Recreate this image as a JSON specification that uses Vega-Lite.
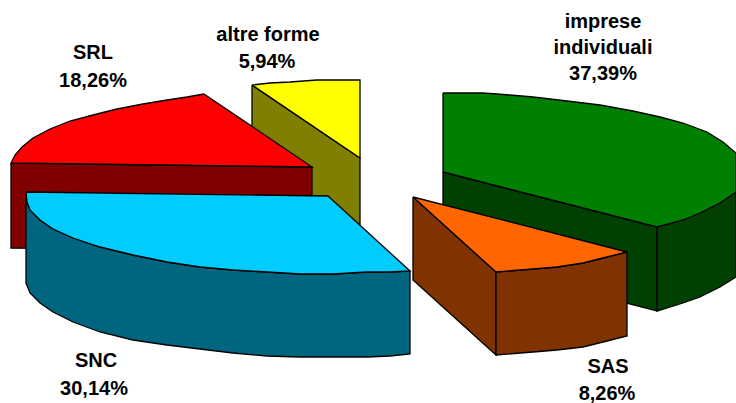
{"$schema":"https://vega.github.io/schema/vega-lite/v6.json","width":736,"height":403,"padding":0,"autosize":{"type":"none"},"view":{"stroke":null},"background":"white",
"datasets":{"faces":[
{"f":"a1","o":1,"x":252,"y":85},{"f":"a1","o":2,"x":360,"y":158},{"f":"a1","o":3,"x":360,"y":241},{"f":"a1","o":4,"x":252,"y":168},{"f":"a1","o":5,"x":252,"y":85},
{"f":"a2","o":1,"x":252,"y":85},{"f":"a2","o":2,"x":270,"y":83},{"f":"a2","o":3,"x":290,"y":82},{"f":"a2","o":4,"x":317,"y":80},{"f":"a2","o":5,"x":360,"y":80},{"f":"a2","o":6,"x":360,"y":158},{"f":"a2","o":7,"x":252,"y":85},
{"f":"b1","o":1,"x":11,"y":163},{"f":"b1","o":2,"x":312,"y":167},{"f":"b1","o":3,"x":312,"y":250},{"f":"b1","o":4,"x":11,"y":248},{"f":"b1","o":5,"x":11,"y":163},
{"f":"b2","o":1,"x":204,"y":94},{"f":"b2","o":2,"x":187,"y":97},{"f":"b2","o":3,"x":167,"y":100},{"f":"b2","o":4,"x":143,"y":104},{"f":"b2","o":5,"x":117,"y":109},{"f":"b2","o":6,"x":93,"y":115},{"f":"b2","o":7,"x":70,"y":121},{"f":"b2","o":8,"x":50,"y":129},{"f":"b2","o":9,"x":33,"y":138},{"f":"b2","o":10,"x":22,"y":147},{"f":"b2","o":11,"x":15,"y":155},{"f":"b2","o":12,"x":11,"y":163},{"f":"b2","o":13,"x":312,"y":167},{"f":"b2","o":14,"x":204,"y":94},
{"f":"c1","o":1,"x":26,"y":192},{"f":"c1","o":2,"x":27,"y":202},{"f":"c1","o":3,"x":30,"y":210},{"f":"c1","o":4,"x":40,"y":220},{"f":"c1","o":5,"x":53,"y":229},{"f":"c1","o":6,"x":73,"y":238},{"f":"c1","o":7,"x":100,"y":247},{"f":"c1","o":8,"x":133,"y":255},{"f":"c1","o":9,"x":167,"y":262},{"f":"c1","o":10,"x":200,"y":267},{"f":"c1","o":11,"x":233,"y":270},{"f":"c1","o":12,"x":267,"y":272},{"f":"c1","o":13,"x":300,"y":274},{"f":"c1","o":14,"x":333,"y":274},{"f":"c1","o":15,"x":367,"y":272},{"f":"c1","o":16,"x":390,"y":272},{"f":"c1","o":17,"x":410,"y":271},{"f":"c1","o":18,"x":410,"y":354},{"f":"c1","o":19,"x":390,"y":356},{"f":"c1","o":20,"x":367,"y":357},{"f":"c1","o":21,"x":333,"y":357},{"f":"c1","o":22,"x":300,"y":357},{"f":"c1","o":23,"x":267,"y":356},{"f":"c1","o":24,"x":233,"y":353},{"f":"c1","o":25,"x":200,"y":349},{"f":"c1","o":26,"x":167,"y":345},{"f":"c1","o":27,"x":133,"y":340},{"f":"c1","o":28,"x":100,"y":332},{"f":"c1","o":29,"x":73,"y":322},{"f":"c1","o":30,"x":53,"y":312},{"f":"c1","o":31,"x":40,"y":303},{"f":"c1","o":32,"x":30,"y":293},{"f":"c1","o":33,"x":26,"y":283},{"f":"c1","o":34,"x":26,"y":192},
{"f":"c2","o":1,"x":26,"y":192},{"f":"c2","o":2,"x":328,"y":196},{"f":"c2","o":3,"x":410,"y":271},{"f":"c2","o":4,"x":390,"y":272},{"f":"c2","o":5,"x":367,"y":272},{"f":"c2","o":6,"x":333,"y":274},{"f":"c2","o":7,"x":300,"y":274},{"f":"c2","o":8,"x":267,"y":272},{"f":"c2","o":9,"x":233,"y":270},{"f":"c2","o":10,"x":200,"y":267},{"f":"c2","o":11,"x":167,"y":262},{"f":"c2","o":12,"x":133,"y":255},{"f":"c2","o":13,"x":100,"y":247},{"f":"c2","o":14,"x":73,"y":238},{"f":"c2","o":15,"x":53,"y":229},{"f":"c2","o":16,"x":40,"y":220},{"f":"c2","o":17,"x":30,"y":210},{"f":"c2","o":18,"x":27,"y":202},{"f":"c2","o":19,"x":26,"y":192},
{"f":"d1","o":1,"x":443,"y":172},{"f":"d1","o":2,"x":657,"y":227},{"f":"d1","o":3,"x":657,"y":311},{"f":"d1","o":4,"x":443,"y":256},{"f":"d1","o":5,"x":443,"y":172},
{"f":"d2","o":1,"x":657,"y":227},{"f":"d2","o":2,"x":683,"y":220},{"f":"d2","o":3,"x":700,"y":213},{"f":"d2","o":4,"x":720,"y":203},{"f":"d2","o":5,"x":736,"y":192},{"f":"d2","o":6,"x":736,"y":277},{"f":"d2","o":7,"x":720,"y":287},{"f":"d2","o":8,"x":700,"y":297},{"f":"d2","o":9,"x":683,"y":303},{"f":"d2","o":10,"x":657,"y":311},{"f":"d2","o":11,"x":657,"y":227},
{"f":"d3","o":1,"x":443,"y":93},{"f":"d3","o":2,"x":483,"y":93},{"f":"d3","o":3,"x":510,"y":95},{"f":"d3","o":4,"x":533,"y":97},{"f":"d3","o":5,"x":567,"y":101},{"f":"d3","o":6,"x":600,"y":105},{"f":"d3","o":7,"x":633,"y":111},{"f":"d3","o":8,"x":660,"y":117},{"f":"d3","o":9,"x":683,"y":123},{"f":"d3","o":10,"x":707,"y":132},{"f":"d3","o":11,"x":723,"y":142},{"f":"d3","o":12,"x":736,"y":153},{"f":"d3","o":13,"x":736,"y":192},{"f":"d3","o":14,"x":720,"y":203},{"f":"d3","o":15,"x":700,"y":213},{"f":"d3","o":16,"x":683,"y":220},{"f":"d3","o":17,"x":657,"y":227},{"f":"d3","o":18,"x":443,"y":172},{"f":"d3","o":19,"x":443,"y":93},
{"f":"e1","o":1,"x":413,"y":197},{"f":"e1","o":2,"x":496,"y":272},{"f":"e1","o":3,"x":496,"y":355},{"f":"e1","o":4,"x":413,"y":280},{"f":"e1","o":5,"x":413,"y":197},
{"f":"e2","o":1,"x":496,"y":272},{"f":"e2","o":2,"x":533,"y":269},{"f":"e2","o":3,"x":557,"y":267},{"f":"e2","o":4,"x":583,"y":263},{"f":"e2","o":5,"x":607,"y":257},{"f":"e2","o":6,"x":627,"y":252},{"f":"e2","o":7,"x":627,"y":336},{"f":"e2","o":8,"x":607,"y":341},{"f":"e2","o":9,"x":583,"y":347},{"f":"e2","o":10,"x":557,"y":350},{"f":"e2","o":11,"x":533,"y":352},{"f":"e2","o":12,"x":496,"y":355},{"f":"e2","o":13,"x":496,"y":272},
{"f":"e3","o":1,"x":413,"y":197},{"f":"e3","o":2,"x":627,"y":252},{"f":"e3","o":3,"x":607,"y":257},{"f":"e3","o":4,"x":583,"y":263},{"f":"e3","o":5,"x":557,"y":267},{"f":"e3","o":6,"x":533,"y":269},{"f":"e3","o":7,"x":496,"y":272},{"f":"e3","o":8,"x":413,"y":197}
],
"labels":[
{"t":"imprese","x":603,"y":22},{"t":"individuali","x":603,"y":48},{"t":"37,39%","x":603,"y":74},
{"t":"SRL","x":93,"y":53},{"t":"18,26%","x":93,"y":81},
{"t":"altre forme","x":268,"y":35},{"t":"5,94%","x":267,"y":62},
{"t":"SNC","x":96,"y":361},{"t":"30,14%","x":94,"y":389},
{"t":"SAS","x":608,"y":367},{"t":"8,26%","x":607,"y":393.5}
]},
"layer":[
{"data":{"name":"faces"},
"mark":{"type":"line","filled":true,"stroke":"#000000","strokeWidth":1.3,"strokeJoin":"miter","opacity":1,"fillOpacity":1,"clip":true},
"encoding":{
"x":{"field":"x","type":"quantitative","scale":{"domain":[0,736],"nice":false,"zero":false},"axis":null},
"y":{"field":"y","type":"quantitative","scale":{"domain":[403,0],"nice":false,"zero":false},"axis":null},
"order":{"field":"o","type":"quantitative"},
"color":{"field":"f","type":"nominal","legend":null,"scale":{"domain":["a1","a2","b1","b2","c1","c2","d1","d2","d3","e1","e2","e3"],"range":["#808000","#FFFF00","#800000","#FF0000","#006680","#00CCFF","#004000","#004000","#008000","#803300","#803300","#FF6600"]}}
}},
{"data":{"name":"labels"},
"mark":{"type":"text","font":"Liberation Sans","fontWeight":"bold","fontSize":20,"color":"#000000","align":"center","baseline":"middle"},
"encoding":{
"x":{"field":"x","type":"quantitative","scale":{"domain":[0,736],"nice":false,"zero":false},"axis":null},
"y":{"field":"y","type":"quantitative","scale":{"domain":[403,0],"nice":false,"zero":false},"axis":null},
"text":{"field":"t","type":"nominal"}
}}
]}
